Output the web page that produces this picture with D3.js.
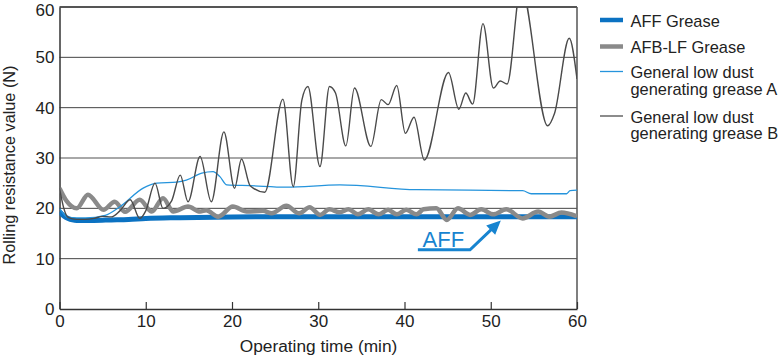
<!DOCTYPE html>
<html><head><meta charset="utf-8">
<script src="https://cdn.jsdelivr.net/npm/d3@7"></script>
<style>body{margin:0;background:#fff}svg{display:block;font-family:"Liberation Sans",Arial,sans-serif}</style>
</head><body><svg id="c" width="781" height="357"></svg>
<script>
const xTicks=[0,10,20,30,40,50,60];
const yTicks=[0,10,20,30,40,50,60];
const affT=[0,0.5,1,1.5,2,4,6,8,10,14,20,26,35,45,55,60];
const affV=[19.3,18.5,18,17.7,17.6,17.6,17.7,17.8,18,18.15,18.3,18.35,18.35,18.35,18.35,18.35];
const afbT=[0,0.8,2,3.3,5.1,6.4,7.6,9.3,10.7,12,13.2,14.9,16.3,17,18.4,20.1,21.7,23.6,24.6,26.3,27.8,29,30.2,31.3,32.5,33.5,34.6,35.8,37,38.1,39.1,40.2,41.4,42.2,43.7,44.9,46.2,47.6,48.9,50.3,51.8,53.7,55.5,56.8,58.2,60];
const afbV=[24,21.5,20,22.7,19.7,21.3,19.3,21.7,19.35,22,19.35,20.35,19.35,19.6,18.35,20.35,19.35,19.5,19,20.5,19,20.2,18.7,19.8,19.2,19.8,18.8,19.8,18.8,19.7,18.8,19.7,18.8,19.8,20,17.7,20,18.7,19.8,18.8,19.8,18,19.35,18.35,19.15,18.4];
const gaT=[0,1,3,5.3,7,9.7,11.3,13.6,14.7,16.5,17.8,18.6,19.4,22.1,26.3,32.5,41.4,53.7,54.7,58.8,59.2,60];
const gaV=[20,18.2,18.1,18.6,20.3,24,25,25.2,25.6,27,27.3,26.3,24.65,24.5,24.2,24.65,23.7,23.5,22.9,22.9,23.5,23.6];
const gbT=[0,0.5,1,2,3,4,5,6,7,8.2,9.3,10,11.07,12,13,14,14.9,16.3,17.6,19.06,20.3,21.1,22.1,23.8,25.9,27.1,28.1,28.8,30.2,31.3,32,33.2,34.2,36.1,37.3,38.1,39.1,40.1,41.1,42.3,45.1,46.3,47.1,47.9,49.1,50.3,51.1,51.9,53.5,56.6,57.4,59.1,60];
const gbV=[24,20,18.2,17.8,17.8,18,18.4,18.3,19.5,21.7,18,19.5,25,20,21.5,26.6,21.3,30.3,21.3,35.2,24,29.8,24.5,23.2,41.7,24.3,41.5,44.2,28.3,44.2,42.9,32.4,43.9,32.3,41.6,40.6,44.4,34.9,38.1,29.6,47,39.7,42.9,40.7,56.7,43.9,45.3,44.7,64,36.4,38.9,53.8,45.7];
const legendLabels=[["AFF Grease"],["AFB-LF Grease"],["General low dust","generating grease A"],["General low dust","generating grease B"]];
const annoText="AFF";
const annoPathT=[41.55,47.6,50.75];
const annoPathV=[11.75,11.75,16.9];

const svg=d3.select("#c");
const x=d3.scaleLinear().domain([0,60]).range([59.5,577]);
const y=d3.scaleLinear().domain([0,60]).range([309,7]);

// grid
svg.append("g").selectAll("line").data(yTicks.filter(d=>d>0)).join("line")
 .attr("x1",x(0)).attr("x2",x(60)).attr("y1",d=>y(d)).attr("y2",d=>y(d))
 .attr("stroke",d=>d===30?"#a8a8a8":(d===60?"#555":"#444"))
 .attr("stroke-width",d=>d===30?2:(d===60?2.2:1));
svg.append("line").attr("x1",x(60)).attr("x2",x(60)).attr("y1",y(60)).attr("y2",y(0)).attr("stroke","#555").attr("stroke-width",1.5);

// axes
const xa=svg.append("g").attr("transform",`translate(0,${y(0)})`).call(d3.axisBottom(x).tickValues(xTicks).tickSize(-7).tickPadding(6).tickSizeOuter(0));
xa.select(".domain").attr("stroke","#333").attr("stroke-width",1.5);
xa.selectAll(".tick line").attr("stroke","#333").attr("stroke-width",1.2);
xa.selectAll("text").attr("font-size",17).attr("fill","#222").attr("font-family","Liberation Sans, Arial");
const ya=svg.append("g").attr("transform",`translate(${x(0)},0)`).call(d3.axisLeft(y).tickValues(yTicks).tickSize(0).tickPadding(5));
ya.select(".domain").attr("stroke","#333").attr("stroke-width",1.5);
ya.selectAll("text").attr("font-size",17).attr("fill","#222").attr("font-family","Liberation Sans, Arial")
  .attr("dy",d=>d===60?"0.5em":"0.32em");

svg.append("text").attr("x",318.5).attr("y",352).attr("text-anchor","middle").attr("font-size",17.3).attr("fill","#222").text("Operating time (min)");
svg.append("text").attr("transform","translate(14.5,165) rotate(-90)").attr("text-anchor","middle").attr("font-size",16.3).attr("fill","#222").text("Rolling resistance value (N)");

svg.append("defs").append("clipPath").attr("id","clip").append("rect").attr("x",x(0)).attr("y",y(60)).attr("width",x(60)-x(0)).attr("height",y(0)-y(60));
const line=d3.line().x(d=>x(d[0])).y(d=>y(d[1])).curve(d3.curveMonotoneX);
const zip=(a,b)=>a.map((t,i)=>[t,b[i]]);
const g=svg.append("g").attr("clip-path","url(#clip)");
g.append("path").attr("d",line(zip(affT,affV))).attr("fill","none").attr("stroke","#0b72c2").attr("stroke-width",5);
g.append("path").attr("d",line(zip(afbT,afbV))).attr("fill","none").attr("stroke","#8a8a8a").attr("stroke-width",4.5);
g.append("path").attr("d",line(zip(gaT,gaV))).attr("fill","none").attr("stroke","#2594dc").attr("stroke-width",1.3);
g.append("path").attr("d",line(zip(gbT,gbV))).attr("fill","none").attr("stroke","#4a4a4a").attr("stroke-width",1.4);

// annotation
const ap=zip(annoPathT,annoPathV).map(d=>[x(d[0]),y(d[1])]);
svg.append("path").attr("d",d3.line()(ap)).attr("fill","none").attr("stroke","#1784d0").attr("stroke-width",3);
const p1=ap[1],p2=ap[2];
const ang=Math.atan2(p2[1]-p1[1],p2[0]-p1[0]);
const L=14,W=6.5;
const tip=[p2[0]+Math.cos(ang)*5,p2[1]+Math.sin(ang)*5];
const base=[tip[0]-Math.cos(ang)*L,tip[1]-Math.sin(ang)*L];
svg.append("path").attr("d",`M${tip}L${base[0]+Math.sin(ang)*W},${base[1]-Math.cos(ang)*W}L${base[0]-Math.sin(ang)*W},${base[1]+Math.cos(ang)*W}Z`).attr("fill","#1784d0");
svg.append("text").attr("x",x(42.1)).attr("y",y(12.3)).attr("font-size",22).attr("fill","#1784d0").text(annoText);

// legend
const lg=svg.append("g");
const sw=[{c:"#0b72c2",w:4.5},{c:"#8a8a8a",w:4.5},{c:"#2594dc",w:1.3},{c:"#666",w:1.5}];
const rowY=[20,46.5,71.5,116];
legendLabels.forEach((lab,i)=>{
  lg.append("line").attr("x1",600).attr("x2",623).attr("y1",rowY[i]).attr("y2",rowY[i]).attr("stroke",sw[i].c).attr("stroke-width",sw[i].w);
  lab.forEach((t,j)=>lg.append("text").attr("x",630.5).attr("y",rowY[i]+6.5+j*16.7).attr("font-size",16.4).attr("fill","#222").text(t));
});
</script></body></html>
